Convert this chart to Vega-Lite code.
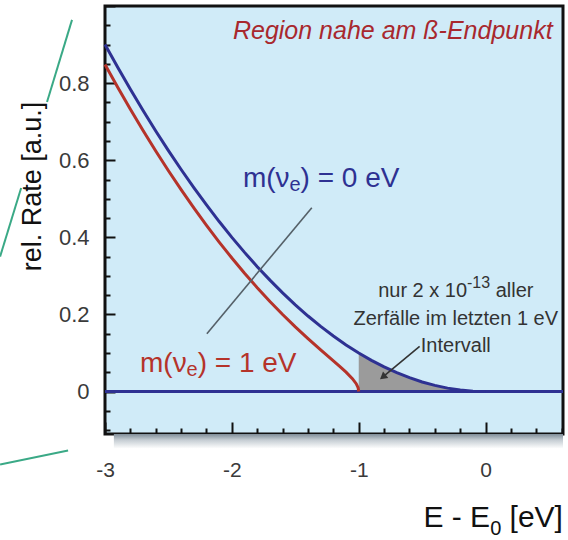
{
  "$schema": "https://vega.github.io/schema/vega-lite/v6.json",
  "width": 458,
  "height": 428,
  "autosize": "none",
  "padding": {"left": 105, "top": 6, "right": 5, "bottom": 106},
  "background": "white",
  "config": {
    "view": {"fill": "#d0ebf8", "stroke": "#111111", "strokeWidth": 3},
    "font": "Liberation Sans"
  },
  "datasets": {
    "curves": [
      {"series": "m0", "x": -3.0, "y": 0.9},
      {"series": "m0", "x": -2.9, "y": 0.841},
      {"series": "m0", "x": -2.8, "y": 0.784},
      {"series": "m0", "x": -2.7, "y": 0.729},
      {"series": "m0", "x": -2.6, "y": 0.676},
      {"series": "m0", "x": -2.5, "y": 0.625},
      {"series": "m0", "x": -2.4, "y": 0.576},
      {"series": "m0", "x": -2.3, "y": 0.529},
      {"series": "m0", "x": -2.2, "y": 0.484},
      {"series": "m0", "x": -2.1, "y": 0.441},
      {"series": "m0", "x": -2.0, "y": 0.4},
      {"series": "m0", "x": -1.9, "y": 0.361},
      {"series": "m0", "x": -1.8, "y": 0.324},
      {"series": "m0", "x": -1.7, "y": 0.289},
      {"series": "m0", "x": -1.6, "y": 0.256},
      {"series": "m0", "x": -1.5, "y": 0.225},
      {"series": "m0", "x": -1.4, "y": 0.196},
      {"series": "m0", "x": -1.3, "y": 0.169},
      {"series": "m0", "x": -1.2, "y": 0.144},
      {"series": "m0", "x": -1.1, "y": 0.121},
      {"series": "m0", "x": -1.0, "y": 0.1},
      {"series": "m0", "x": -0.9, "y": 0.081},
      {"series": "m0", "x": -0.8, "y": 0.064},
      {"series": "m0", "x": -0.7, "y": 0.049},
      {"series": "m0", "x": -0.6, "y": 0.036},
      {"series": "m0", "x": -0.5, "y": 0.025},
      {"series": "m0", "x": -0.4, "y": 0.016},
      {"series": "m0", "x": -0.3, "y": 0.009},
      {"series": "m0", "x": -0.2, "y": 0.004},
      {"series": "m0", "x": -0.1, "y": 0.001},
      {"series": "m0", "x": 0.0, "y": 0.0},
      {"series": "m1", "x": -3.0, "y": 0.8485},
      {"series": "m1", "x": -2.9, "y": 0.7894},
      {"series": "m1", "x": -2.8, "y": 0.7323},
      {"series": "m1", "x": -2.7, "y": 0.6772},
      {"series": "m1", "x": -2.6, "y": 0.624},
      {"series": "m1", "x": -2.5, "y": 0.5728},
      {"series": "m1", "x": -2.4, "y": 0.5236},
      {"series": "m1", "x": -2.3, "y": 0.4764},
      {"series": "m1", "x": -2.2, "y": 0.4311},
      {"series": "m1", "x": -2.1, "y": 0.3878},
      {"series": "m1", "x": -2.0, "y": 0.3464},
      {"series": "m1", "x": -1.9, "y": 0.3069},
      {"series": "m1", "x": -1.8, "y": 0.2694},
      {"series": "m1", "x": -1.7, "y": 0.2337},
      {"series": "m1", "x": -1.6, "y": 0.1998},
      {"series": "m1", "x": -1.5, "y": 0.1677},
      {"series": "m1", "x": -1.4, "y": 0.1372},
      {"series": "m1", "x": -1.3, "y": 0.108},
      {"series": "m1", "x": -1.2, "y": 0.0796},
      {"series": "m1", "x": -1.15, "y": 0.0653},
      {"series": "m1", "x": -1.1, "y": 0.0504},
      {"series": "m1", "x": -1.05, "y": 0.0336},
      {"series": "m1", "x": -1.02, "y": 0.0205},
      {"series": "m1", "x": -1.005, "y": 0.0101},
      {"series": "m1", "x": -1.0, "y": 0.0}
    ],
    "gray": [
      {"x": -1.0, "y": 0.1},
      {"x": -0.9, "y": 0.081},
      {"x": -0.8, "y": 0.064},
      {"x": -0.7, "y": 0.049},
      {"x": -0.6, "y": 0.036},
      {"x": -0.5, "y": 0.025},
      {"x": -0.4, "y": 0.016},
      {"x": -0.3, "y": 0.009},
      {"x": -0.2, "y": 0.004},
      {"x": -0.1, "y": 0.001},
      {"x": 0.0, "y": 0.0}
    ],
    "baseline": [
      {"x": -3.0, "y": 0},
      {"x": 0.61, "y": 0}
    ],
    "shadow": [
      {"x": -2.93, "x2": 0.61, "y": -0.11, "y2": -0.148}
    ],
    "labels": [
      {"id": "title", "x": 0.528, "y": 0.935, "a": "Region nahe am ß-Endpunkt"},
      {"id": "m0", "x": -1.913, "y": 0.531, "a": "m(ν", "b": "e", "c": ") = 0 eV"},
      {"id": "m1", "x": -2.724, "y": 0.052, "a": "m(ν", "b": "e", "c": ") = 1 eV"},
      {"id": "note1", "x": -0.235, "y": 0.245, "a": "nur 2 x 10", "b": "-13", "c": "aller"},
      {"id": "note", "x": -0.235, "y": 0.173, "a": "Zerfälle im letzten 1 eV"},
      {"id": "note", "x": -0.235, "y": 0.1035, "a": "Intervall"},
      {"id": "xtitle", "x": -0.49, "y": -0.351, "a": "E - E", "b": "0", "c": "[eV]"}
    ],
    "pointer": [
      {"x": -2.197, "y": 0.15, "x2": -1.37, "y2": 0.477}
    ],
    "arrow": [
      {"x": -0.52, "y": 0.117, "x2": -0.8, "y2": 0.041}
    ],
    "arrowhead": [
      {"x": -0.81, "y": 0.038}
    ],
    "deco": [
      {"x": -3.26, "y": 0.964, "x2": -3.457, "y2": 0.751},
      {"x": -3.661, "y": 0.528, "x2": -3.827, "y2": 0.35},
      {"x": -3.827, "y": -0.189, "x2": -3.291, "y2": -0.153}
    ]
  },
  "encoding": {
    "x": {
      "field": "x",
      "type": "quantitative",
      "scale": {"domain": [-3, 0.61], "nice": false, "zero": false},
      "axis": {
        "title": null,
        "values": [-3, -2.8, -2.6, -2.4, -2.2, -2, -1.8, -1.6, -1.4, -1.2, -1, -0.8, -0.6, -0.4, -0.2, 0, 0.2, 0.4, 0.6],
        "grid": false,
        "domain": false,
        "tickColor": "#111111",
        "tickWidth": 2,
        "tickSize": {"condition": {"test": "abs(datum.value - round(datum.value)) < 0.001", "value": -12}, "value": -6},
        "labelExpr": "abs(datum.value - round(datum.value)) < 0.001 ? toString(round(datum.value)) : ''",
        "labelFontSize": 21,
        "labelColor": "#3a3a3a",
        "labelPadding": 37,
        "labelFlush": false,
        "labelOverlap": false
      }
    },
    "y": {
      "field": "y",
      "type": "quantitative",
      "scale": {"domain": [-0.11, 1.0], "nice": false, "zero": false},
      "axis": {
        "title": "rel. Rate [a.u.]",
        "values": [-0.1, -0.05, 0, 0.05, 0.1, 0.15, 0.2, 0.25, 0.3, 0.35, 0.4, 0.45, 0.5, 0.55, 0.6, 0.65, 0.7, 0.75, 0.8, 0.85, 0.9, 0.95, 1.0],
        "grid": false,
        "domain": false,
        "tickColor": "#111111",
        "tickWidth": 2,
        "tickSize": {"condition": {"test": "abs(datum.value * 5 - round(datum.value * 5)) < 0.001", "value": -10}, "value": -5},
        "labelExpr": "abs(datum.value * 5 - round(datum.value * 5)) < 0.001 && datum.value > -0.05 && datum.value < 0.9 ? toString(round(datum.value * 10) / 10) : ''",
        "labelFontSize": 22,
        "labelColor": "#3a3a3a",
        "labelPadding": 26,
        "labelFlush": false,
        "labelOverlap": false,
        "titleFontSize": 27,
        "titleFontWeight": "normal",
        "titleColor": "#111111",
        "titleAlign": "center",
        "titleBaseline": "middle",
        "titleAngle": -90,
        "titleX": -73,
        "titleY": 180
      }
    }
  },
  "layer": [
    {
      "data": {"name": "shadow"},
      "mark": {
        "type": "rect",
        "clip": false,
        "fill": {
          "gradient": "linear",
          "x1": 0, "y1": 0, "x2": 0, "y2": 1,
          "stops": [
            {"offset": 0, "color": "#7f8d98"},
            {"offset": 0.4, "color": "#c4ccd2"},
            {"offset": 1, "color": "#ffffff"}
          ]
        }
      },
      "encoding": {"x2": {"field": "x2"}, "y2": {"field": "y2"}}
    },
    {
      "data": {"name": "gray"},
      "mark": {"type": "area", "color": "#9b9b9b", "opacity": 1},
      "encoding": {"y2": {"datum": 0}}
    },
    {
      "data": {"name": "baseline"},
      "mark": {"type": "line", "color": "#2e3192", "strokeWidth": 3}
    },
    {
      "data": {"name": "curves"},
      "mark": {"type": "line", "strokeWidth": 3},
      "encoding": {
        "color": {
          "field": "series",
          "type": "nominal",
          "scale": {"domain": ["m1", "m0"], "range": ["#b5332a", "#2e3192"]},
          "legend": null
        },
        "order": {"field": "x", "type": "quantitative"}
      }
    },
    {
      "data": {"name": "pointer"},
      "mark": {"type": "rule", "color": "#556068", "strokeWidth": 1.6},
      "encoding": {"x2": {"field": "x2"}, "y2": {"field": "y2"}}
    },
    {
      "data": {"name": "arrow"},
      "mark": {"type": "rule", "color": "#333333", "strokeWidth": 1.6},
      "encoding": {"x2": {"field": "x2"}, "y2": {"field": "y2"}}
    },
    {
      "data": {"name": "arrowhead"},
      "mark": {"type": "point", "shape": "triangle-up", "filled": true, "color": "#333333", "size": 70, "angle": 231, "opacity": 1}
    },
    {
      "data": {"name": "deco"},
      "mark": {"type": "rule", "color": "#3aa986", "strokeWidth": 2, "clip": false},
      "encoding": {"x2": {"field": "x2"}, "y2": {"field": "y2"}}
    },
    {
      "data": {"name": "labels"},
      "transform": [{"filter": "datum.id == 'title'"}],
      "mark": {"type": "text", "align": "right", "baseline": "middle", "fontSize": 25, "fontStyle": "italic", "color": "#a8282e"},
      "encoding": {"text": {"field": "a"}}
    },
    {
      "data": {"name": "labels"},
      "transform": [{"filter": "datum.id == 'm0'"}],
      "mark": {"type": "text", "align": "left", "baseline": "alphabetic", "fontSize": 28, "color": "#2e3192"},
      "encoding": {"text": {"field": "a"}}
    },
    {
      "data": {"name": "labels"},
      "transform": [{"filter": "datum.id == 'm0'"}],
      "mark": {"type": "text", "align": "left", "baseline": "alphabetic", "fontSize": 20, "color": "#2e3192", "dx": 46.6, "dy": 4},
      "encoding": {"text": {"field": "b"}}
    },
    {
      "data": {"name": "labels"},
      "transform": [{"filter": "datum.id == 'm0'"}],
      "mark": {"type": "text", "align": "left", "baseline": "alphabetic", "fontSize": 28, "color": "#2e3192", "dx": 57.7},
      "encoding": {"text": {"field": "c"}}
    },
    {
      "data": {"name": "labels"},
      "transform": [{"filter": "datum.id == 'm1'"}],
      "mark": {"type": "text", "align": "left", "baseline": "alphabetic", "fontSize": 28, "color": "#b5332a"},
      "encoding": {"text": {"field": "a"}}
    },
    {
      "data": {"name": "labels"},
      "transform": [{"filter": "datum.id == 'm1'"}],
      "mark": {"type": "text", "align": "left", "baseline": "alphabetic", "fontSize": 20, "color": "#b5332a", "dx": 46.6, "dy": 4},
      "encoding": {"text": {"field": "b"}}
    },
    {
      "data": {"name": "labels"},
      "transform": [{"filter": "datum.id == 'm1'"}],
      "mark": {"type": "text", "align": "left", "baseline": "alphabetic", "fontSize": 28, "color": "#b5332a", "dx": 57.7},
      "encoding": {"text": {"field": "c"}}
    },
    {
      "data": {"name": "labels"},
      "transform": [{"filter": "datum.id == 'note1'"}],
      "mark": {"type": "text", "align": "left", "baseline": "alphabetic", "fontSize": 20, "color": "#333333", "dx": -77.65},
      "encoding": {"text": {"field": "a"}}
    },
    {
      "data": {"name": "labels"},
      "transform": [{"filter": "datum.id == 'note1'"}],
      "mark": {"type": "text", "align": "left", "baseline": "alphabetic", "fontSize": 16, "color": "#333333", "dx": 11.25, "dy": -9},
      "encoding": {"text": {"field": "b"}}
    },
    {
      "data": {"name": "labels"},
      "transform": [{"filter": "datum.id == 'note1'"}],
      "mark": {"type": "text", "align": "left", "baseline": "alphabetic", "fontSize": 20, "color": "#333333", "dx": 39.9},
      "encoding": {"text": {"field": "c"}}
    },
    {
      "data": {"name": "labels"},
      "transform": [{"filter": "datum.id == 'note'"}],
      "mark": {"type": "text", "align": "center", "baseline": "alphabetic", "fontSize": 20, "color": "#333333"},
      "encoding": {"text": {"field": "a"}}
    },
    {
      "data": {"name": "labels"},
      "transform": [{"filter": "datum.id == 'xtitle'"}],
      "mark": {"type": "text", "align": "left", "baseline": "alphabetic", "fontSize": 30, "color": "#111111", "clip": false},
      "encoding": {"text": {"field": "a"}}
    },
    {
      "data": {"name": "labels"},
      "transform": [{"filter": "datum.id == 'xtitle'"}],
      "mark": {"type": "text", "align": "left", "baseline": "alphabetic", "fontSize": 20, "color": "#111111", "clip": false, "dx": 66.7, "dy": 8},
      "encoding": {"text": {"field": "b"}}
    },
    {
      "data": {"name": "labels"},
      "transform": [{"filter": "datum.id == 'xtitle'"}],
      "mark": {"type": "text", "align": "left", "baseline": "alphabetic", "fontSize": 30, "color": "#111111", "clip": false, "dx": 86.1},
      "encoding": {"text": {"field": "c"}}
    }
  ]
}
